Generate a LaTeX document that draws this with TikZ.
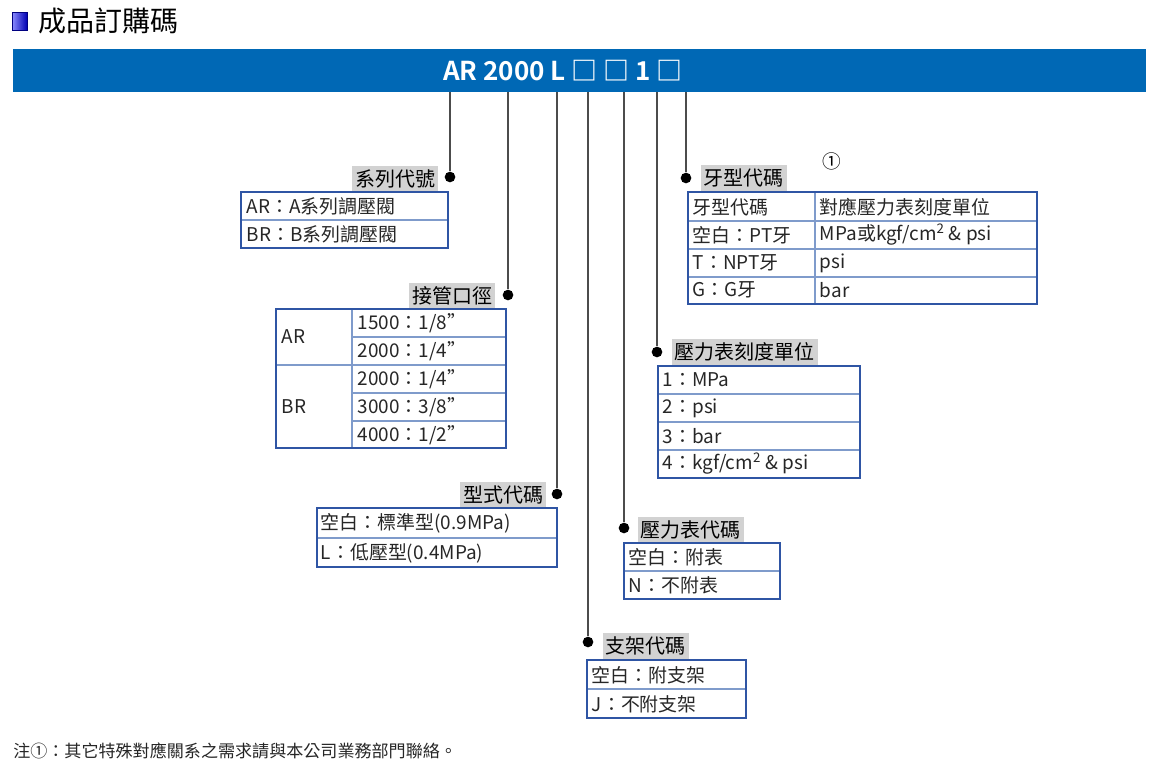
\documentclass[tikz,border=0pt]{standalone}
\usepackage{fontspec}
\setmainfont{Noto Sans CJK TC}
\newfontfamily\cjkb{Noto Sans CJK TC Bold}
\definecolor{barblue}{HTML}{0068B5}
\definecolor{tblue}{HTML}{2F55A4}
\definecolor{lblue}{HTML}{7F9BCB}
\definecolor{lgray}{HTML}{D2D2D2}
\begin{document}
\begin{tikzpicture}[x=0.75pt,y=-0.75pt,
  lead/.style={line width=0.9pt,draw=black!70},
  dotst/.style={circle,fill=black,inner sep=0pt,minimum size=8pt},
  lab/.style={fill=lgray,font=\fontsize{15}{17}\selectfont,inner sep=2pt,minimum height=20pt},
  tb/.style={draw=tblue,line width=1.1pt},
  rl/.style={draw=lblue,line width=0.9pt},
  ct/.style={anchor=west,font=\fontsize{14.2}{16}\selectfont,inner sep=2pt,text=black!85}]
\useasboundingbox (0,0) rectangle (1149,778);
% title
\shade[left color=blue!45!white,right color=blue!70!black,draw=blue!50!black] (12,12) rectangle (27,30);
\node[anchor=west,font=\fontsize{21}{24}\selectfont,inner sep=0pt] (title) at (38,21) {成品訂購碼};
% bar
\fill[barblue] (13,49) rectangle (1146,92);
\node[font=\cjkb\fontsize{19.5}{22}\selectfont,text=white,inner sep=0pt] (code) at (563,71) {AR 2000 L □ □ 1 □};
% leads
\foreach \x/\y/\n in {450/177/d1,508/295/d2,557/494/d3,588/642/d4,624/528/d5,657/352/d6,686/178/d7}{
  \coordinate (t\n) at (\x,92);
  \node[dotst] (\n) at (\x,\y) {};
  \draw[lead] (t\n) -- (\n);
}
% 1
\node[lab,anchor=east] (l1) at (438,179) {系列代號};
\draw[rl] (241,220) -- (448,220);
\draw[tb] (241,192) rectangle (448,248);
\node[ct] (c11) at (244,206) {AR：A系列調壓閥};
\node[ct] (c12) at (244,234) {BR：B系列調壓閥};
% 2
\node[lab,anchor=east] (l2) at (495,296) {接管口徑};
\draw[rl] (352,337) -- (506,337) (352,393) -- (506,393) (352,421) -- (506,421) (276,365) -- (506,365) (352,309) -- (352,448);
\draw[tb] (276,309) rectangle (506,448);
\node[ct] (c20) at (279,337) {AR};
\node[ct] (c21) at (279,407) {BR};
\foreach \t [count=\i] in {1500：1/8",2000：1/4",2000：1/4",3000：3/8",4000：1/2"}
  \node[ct] (c2\i) at (355,{309+28*(\i-0.5)}) {\t};
% 3
\node[lab,anchor=east] (l3) at (546,495) {型式代碼};
\draw[rl] (317,538) -- (557,538);
\draw[tb] (317,508) rectangle (557,567);
\node[ct] (c31) at (318,523) {空白：標準型(0.9MPa)};
\node[ct] (c32) at (318,553) {L：低壓型(0.4MPa)};
% 4
\node[lab,anchor=west] (l4) at (603,646) {支架代碼};
\draw[rl] (587,689) -- (746,689);
\draw[tb] (587,660) rectangle (746,718);
\node[ct] (c41) at (589,675) {空白：附支架};
\node[ct] (c42) at (589,704) {J：不附支架};
% 5
\node[lab,anchor=west] (l5) at (638,530) {壓力表代碼};
\draw[rl] (624,571) -- (780,571);
\draw[tb] (624,543) rectangle (780,599);
\node[ct] (c51) at (626,557) {空白：附表};
\node[ct] (c52) at (626,585) {N：不附表};
% 6
\node[lab,anchor=west] (l6) at (672,352) {壓力表刻度單位};
\draw[rl] (658,394) -- (860,394) (658,422) -- (860,422) (658,450) -- (860,450);
\draw[tb] (658,366) rectangle (860,478);
\foreach \t [count=\i] in {1：MPa,2：psi,3：bar,{4：kgf/cm\textsuperscript{2} \& psi}}
  \node[ct] (c6\i) at (660,{366+28*(\i-0.5)}) {\t};
% 7
\node[lab,anchor=west] (l7) at (701,178) {牙型代碼};
\node[font=\fontsize{14}{16}\selectfont,inner sep=0pt] (n1) at (832,161) {①};
\draw[rl] (688,221) -- (1037,221) (688,249) -- (1037,249) (688,277) -- (1037,277) (815,192) -- (815,304);
\draw[tb] (688,192) rectangle (1037,304);
\node[ct] (c71) at (690,207) {牙型代碼};
\node[ct] (c72) at (690,235) {空白：PT牙};
\node[ct] (c73) at (690,263) {T：NPT牙};
\node[ct] (c74) at (690,290) {G：G牙};
\node[ct] (c75) at (817,207) {對應壓力表刻度單位};
\node[ct] (c76) at (817,235) {MPa或kgf/cm\textsuperscript{2} \& psi};
\node[ct] (c77) at (817,263) {psi};
\node[ct] (c78) at (817,290) {bar};
% footnote
\node[anchor=west,font=\fontsize{12.8}{15}\selectfont,inner sep=0pt,text=black!85] (foot) at (13,751) {注①：其它特殊對應關系之需求請與本公司業務部門聯絡。};
\end{tikzpicture}
\end{document}
